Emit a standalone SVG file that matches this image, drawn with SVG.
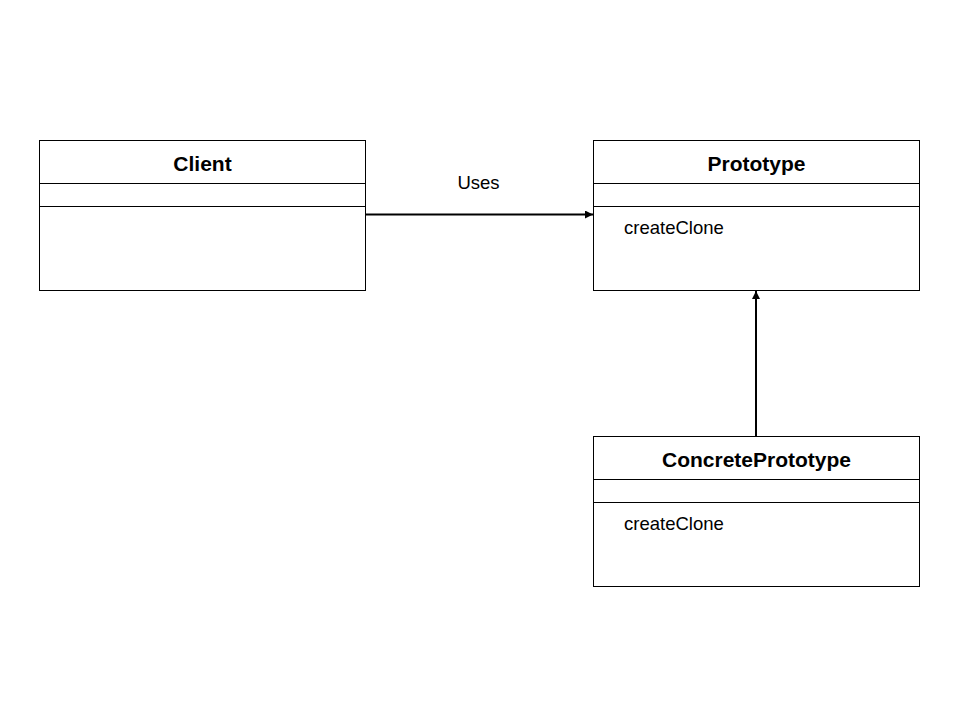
<svg xmlns="http://www.w3.org/2000/svg" width="960" height="720" viewBox="0 0 960 720">
<defs>
<style>
.box{fill:#fff;stroke:#000;stroke-width:1}
.div{stroke:#000;stroke-width:1}
.title{font-family:"Liberation Sans",Arial,sans-serif;font-weight:bold;font-size:21px;text-anchor:middle;fill:#000}
.op{font-family:"Liberation Sans",Arial,sans-serif;font-size:18.5px;fill:#000}
.conn{stroke:#000;stroke-width:2;fill:none}
</style>
<marker id="arr" viewBox="0 0 10 10" refX="10" refY="5" markerWidth="4" markerHeight="4" orient="auto" markerUnits="strokeWidth">
<path d="M0,0 L10,5 L0,10 Z" fill="#000"/>
</marker>
</defs>
<rect width="960" height="720" fill="#fff"/>
<g id="client">
<rect class="box" x="39.5" y="140.5" width="326" height="150"/>
<line class="div" x1="39.5" y1="183.5" x2="365.5" y2="183.5"/>
<line class="div" x1="39.5" y1="206.5" x2="365.5" y2="206.5"/>
<text class="title" x="202.5" y="170.5">Client</text>
</g>
<g id="prototype">
<rect class="box" x="593.5" y="140.5" width="326" height="150"/>
<line class="div" x1="593.5" y1="183.5" x2="919.5" y2="183.5"/>
<line class="div" x1="593.5" y1="206.5" x2="919.5" y2="206.5"/>
<text class="title" x="756.5" y="170.5">Prototype</text>
<text class="op" x="624" y="234">createClone</text>
</g>
<g id="concreteprototype">
<rect class="box" x="593.5" y="436.5" width="326" height="150"/>
<line class="div" x1="593.5" y1="479.5" x2="919.5" y2="479.5"/>
<line class="div" x1="593.5" y1="502.5" x2="919.5" y2="502.5"/>
<text class="title" x="756.5" y="466.5">ConcretePrototype</text>
<text class="op" x="624" y="530">createClone</text>
</g>
<g id="connectors">
<line class="conn" x1="366" y1="214.5" x2="593" y2="214.5" marker-end="url(#arr)"/>
<text class="op" x="478.5" y="189" text-anchor="middle">Uses</text>
<line class="conn" x1="756" y1="436" x2="756" y2="291" marker-end="url(#arr)"/>
</g>
</svg>
